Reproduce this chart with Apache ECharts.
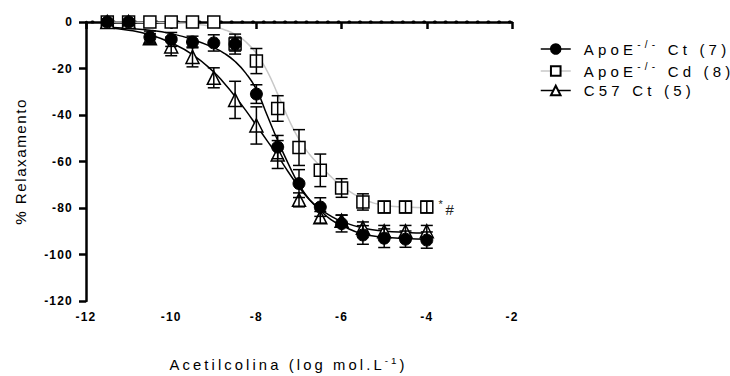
<!DOCTYPE html>
<html>
<head>
<meta charset="utf-8">
<script src="https://cdn.jsdelivr.net/npm/echarts@6/dist/echarts.min.js"></script>
<style>
  html, body { margin: 0; padding: 0; background: #fff; }
  #chart { width: 730px; height: 376px; }
  /* the figure was exported with wide letter spacing */
  #chart text { letter-spacing: 4.2px; }
  #chart text[style*="bold"] { letter-spacing: 1.2px; }
  #chart text[style*="15.2px"] { letter-spacing: 1.5px; }
  #chart text[style*="14.8px"], #chart text[style*="9.8px"] { letter-spacing: 3.1px; }
</style>
</head>
<body>
<div id="chart"></div>
<script>
// log [ACh] of each point
var doses = [-11.5, -11, -10.5, -10, -9.5, -9, -8.5, -8, -7.5, -7, -6.5, -6, -5.5, -5, -4.5, -4];

// mean +/- SEM, % relaxamento
var apoeCt = [0, 0, -6.5, -7.5, -8.6, -9, -9.5, -31, -53.8, -69.5, -79.6, -86.7, -91.6, -93, -93.4, -93.8];
var apoeCtErr = [0, 0, 2.6, 3, 2.5, 3.5, 4.3, 4, 5, 6, 4, 3.6, 4, 4, 3.5, 3.5];
var apoeCd = [0, 0, 0, 0, 0, 0, -9.5, -16.8, -37.2, -54, -63.8, -71.4, -77.4, -79.6, -79.6, -79.6];
var apoeCdErr = [0, 0, 0, 0, 0, 0, 3, 5.4, 5.5, 7.7, 7, 4, 3.5, 2.5, 2.5, 2.5];
var c57Ct = [0, 0, -7, -10.5, -15, -24, -33.5, -44.5, -57, -76.5, -84, -85.5, -88.5, -90, -90, -90];
var c57CtErr = [0, 0, 2, 4, 4.3, 4.3, 8, 8, 6, 3, 2.5, 2.5, 2.5, 2.5, 2.5, 2.5];

// fitted curves
var fitX = [-11.5, -11, -10.5, -10, -9.5, -9, -8.75, -8.5, -8.25, -8, -7.75, -7.5, -7.25, -7, -6.75, -6.5, -6.25, -6, -5.5, -5, -4.5, -4];
var fitApoeCt = [-2.3, -2.8, -3.5, -5, -7.5, -11, -13.5, -17, -22, -29, -40, -51, -61, -70, -76.5, -81, -85, -87.5, -91.2, -92.5, -93.1, -93.4];
var fitApoeCd = [0, 0, -0.1, -0.3, -0.8, -2, -3.3, -5.3, -8.5, -13.5, -21, -31, -41.5, -50.5, -57, -62, -66.5, -70.5, -76, -78.8, -79.6, -79.9];
var fitC57Ct = [-2.5, -3.5, -5.5, -9, -14, -21.5, -26.5, -32, -38, -44.5, -51, -57.5, -64.5, -71, -76.5, -80.5, -83.5, -85.8, -88.6, -89.9, -90.5, -90.8];

// dotted 0 % line
var zeroLine = [[-12, 0], [-2, 0]];

var names = ['ApoE-/- Ct (7)', 'ApoE-/- Cd (8)', 'C57 Ct (5)'];

var FONT = 'Liberation Sans, sans-serif';
// letter spacing (see css); rich tokens get it back as right padding
var SP = 4.2, SPX = 3.1;

function pairs(xs, ys) {
  return xs.map(function (x, i) { return [x, ys[i]]; });
}
function errData(ys, es) {
  var res = [];
  for (var i = 0; i < doses.length; i++) {
    if (es[i] > 0) res.push([doses[i], ys[i] - es[i], ys[i] + es[i]]);
  }
  return res;
}
function errBars(params, api) {
  var x = api.value(0);
  var top = api.coord([x, api.value(2)]);
  var bot = api.coord([x, api.value(1)]);
  var w = 6;
  var st = { stroke: '#000', lineWidth: 1.5 };
  return {
    type: 'group',
    children: [
      { type: 'line', shape: { x1: top[0], y1: top[1], x2: bot[0], y2: bot[1] }, style: st },
      { type: 'line', shape: { x1: top[0] - w, y1: top[1], x2: top[0] + w, y2: top[1] }, style: st },
      { type: 'line', shape: { x1: bot[0] - w, y1: bot[1], x2: bot[0] + w, y2: bot[1] }, style: st }
    ]
  };
}
function big(pad, size) {
  return { fontSize: size, fontFamily: FONT, color: '#000', lineHeight: 20, align: 'left', padding: [0, pad, 0, 0] };
}
function sup(pad, size) {
  return { fontSize: size, fontFamily: FONT, color: '#000', lineHeight: 8, verticalAlign: 'top', align: 'left', padding: [0, pad, 0, 0] };
}

var cdPoints = pairs(doses, apoeCd);
cdPoints[cdPoints.length - 1] = {
  value: cdPoints[cdPoints.length - 1],
  label: {
    show: true,
    position: 'right',
    distance: 5,
    formatter: '{s|*}{h|#}',
    rich: {
      s: { fontSize: 11, fontFamily: FONT, color: '#222', verticalAlign: 'top', lineHeight: 10, align: 'left', padding: [0, SP - 1.5, 0, 0] },
      h: { fontSize: 15, fontFamily: FONT, color: '#222', lineHeight: 18, align: 'left', padding: [4, 0, 0, 0] }
    }
  }
};

var myChart = echarts.init(document.getElementById('chart'), null, { renderer: 'svg' });

var option = {
  animation: false,
  backgroundColor: '#fff',
  grid: { left: 86, right: 218, top: 22, bottom: 75, outerBoundsMode: 'none' },
  legend: {
    orient: 'vertical',
    left: 535,
    top: 34,
    itemGap: 4.5,
    itemWidth: 30,
    itemHeight: 12,
    selectedMode: false,
    data: [
      { name: names[0], lineStyle: { color: '#000', width: 1.5, opacity: 1 } },
      { name: names[1], lineStyle: { color: '#c8c8c8', width: 1.5, opacity: 1 } },
      { name: names[2], lineStyle: { color: '#000', width: 1.5, opacity: 1 } }
    ],
    formatter: function (name) {
      if (name === names[0]) return '{a|ApoE}{s|-/-}{c| Ct (7)}';
      if (name === names[1]) return '{a|ApoE}{s|-/-}{c| Cd (8)}';
      return '{c|C57 Ct (5)}';
    },
    textStyle: {
      padding: [0, 0, 0, 8],
      rich: { a: big(4 * SP, 15), s: sup(3 * SP, 10), c: big(0, 15) }
    }
  },
  xAxis: {
    type: 'value',
    min: -12,
    max: -2,
    interval: 2,
    name: '{n|Acetilcolina (log mol.L}{s|-1}{e|)}',
    nameLocation: 'middle',
    nameGap: 54,
    nameTextStyle: {
      // extra right padding on ")" moves the title a little left, as in the figure
      rich: { n: big(23 * SPX, 14.8), s: sup(2 * SPX, 9.8), e: big(24, 14.8) }
    },
    axisLine: { lineStyle: { color: '#000', width: 2.5 } },
    axisTick: { length: 7, lineStyle: { color: '#000', width: 2.5 } },
    axisLabel: { color: '#000', fontWeight: 'bold', fontSize: 12, fontFamily: FONT, margin: 10 },
    splitLine: { show: false }
  },
  yAxis: {
    type: 'value',
    min: -120,
    max: 0,
    interval: 20,
    name: '% Relaxamento',
    nameLocation: 'middle',
    nameGap: 58,
    nameTextStyle: { fontSize: 15.2, fontFamily: FONT, color: '#000' },
    axisLine: { onZero: false, lineStyle: { color: '#000', width: 2.5 } },
    axisTick: { length: 7, lineStyle: { color: '#000', width: 2.5 } },
    axisLabel: { color: '#000', fontWeight: 'bold', fontSize: 12, fontFamily: FONT, margin: 13 },
    splitLine: { show: false }
  },
  series: [
    {
      type: 'line', data: zeroLine, showSymbol: false, silent: true, clip: false, z: 0,
      lineStyle: { color: '#000', width: 3, type: [1, 9.7], cap: 'round', dashOffset: -6 }
    },
    // fitted curves
    { type: 'line', data: pairs(fitX, fitApoeCd), smooth: true, showSymbol: false, silent: true, z: 1, lineStyle: { color: '#c8c8c8', width: 1.5 } },
    { type: 'line', data: pairs(fitX, fitC57Ct), smooth: true, showSymbol: false, silent: true, z: 1, lineStyle: { color: '#000', width: 1.5 } },
    { type: 'line', data: pairs(fitX, fitApoeCt), smooth: true, showSymbol: false, silent: true, z: 1, lineStyle: { color: '#000', width: 1.5 } },
    // points
    {
      name: names[1], type: 'line', data: cdPoints, symbol: 'rect', symbolSize: 12, z: 3,
      lineStyle: { opacity: 0 }, itemStyle: { color: '#fff', borderColor: '#000', borderWidth: 1.5 }
    },
    {
      name: names[2], type: 'line', data: pairs(doses, c57Ct), symbol: 'triangle', symbolSize: 13, z: 4,
      lineStyle: { opacity: 0 }, itemStyle: { color: '#fff', borderColor: '#000', borderWidth: 1.5 }
    },
    {
      name: names[0], type: 'line', data: pairs(doses, apoeCt), symbol: 'circle', symbolSize: 12, z: 5,
      lineStyle: { opacity: 0 }, itemStyle: { color: '#000', borderColor: '#000', borderWidth: 1 }
    },
    // error bars
    { type: 'custom', renderItem: errBars, data: errData(apoeCd, apoeCdErr), z: 6, silent: true },
    { type: 'custom', renderItem: errBars, data: errData(c57Ct, c57CtErr), z: 6, silent: true },
    { type: 'custom', renderItem: errBars, data: errData(apoeCt, apoeCtErr), z: 6, silent: true }
  ]
};

myChart.setOption(option);

window.addEventListener('resize', function () {
  myChart.resize();
});
</script>
</body>
</html>
